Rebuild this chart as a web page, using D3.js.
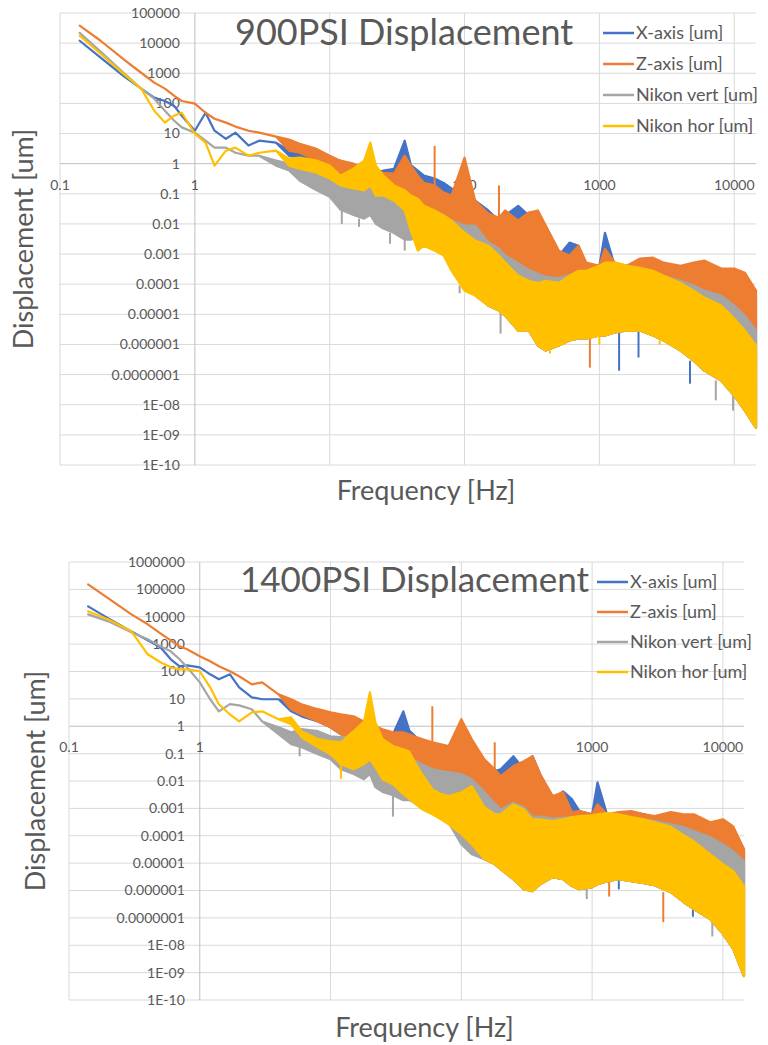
<!DOCTYPE html>
<html>
<head>
<meta charset="utf-8">
<script src="https://cdn.jsdelivr.net/npm/d3@7.9.0/dist/d3.min.js"></script>
<style>
  body { margin: 0; background: #fff; }
  svg text { font-family: Lato, 'Open Sans', sans-serif; fill: #595959; }
</style>
</head>
<body>
<svg id="chart" width="768" height="1045"></svg>
<script>
// frequency grid [Hz] shared by every series
const freqs = [0.14, 0.2, 0.3, 0.4, 0.5, 0.6, 0.7, 0.8, 1, 1.2, 1.4, 1.7, 2, 2.5, 3, 4, 5, 6, 8, 10,
  12, 15, 18, 20, 22, 25, 30, 36, 40, 45, 50, 60, 70, 80, 100, 120, 150, 180, 200, 250,
  300, 350, 400, 500, 600, 700, 800, 1000, 1100, 1300, 1600, 2000, 2500, 3000, 4000, 5000, 6000, 8000, 10000, 12000, 14500];

const xTicks = [0.1, 1, 10, 100, 1000, 10000];
const xTickLabels = ['0.1', '1', '10', '100', '1000', '10000'];
const yTicks = [1e6, 1e5, 1e4, 1e3, 100, 10, 1, 0.1, 0.01, 1e-3, 1e-4, 1e-5, 1e-6, 1e-7, 1e-8, 1e-9, 1e-10];
const yTickLabels = ['1000000', '100000', '10000', '1000', '100', '10', '1', '0.1', '0.01', '0.001', '0.0001',
  '0.00001', '0.000001', '0.0000001', '1E-08', '1E-09', '1E-10'];

const seriesNames = ['X-axis [um]', 'Z-axis [um]', 'Nikon vert [um]', 'Nikon hor [um]'];
const seriesColors = ['#4472c4', '#ed7d31', '#a5a5a5', '#ffc000'];

// 900 PSI: upper edge (hi) on the whole grid, lower edge (lo) on the last part of the grid
const xAxis900Hi = [12000, 3300, 770, 310, 155, 120, 84, 39, 12.4, 49, 12.4, 6.7, 10.7, 4.0, 5.8, 5.0, 2.7, 2.7, 2.3, 1.47,
  1.26, 0.68, 0.50, 0.50, 0.50, 0.59, 0.68, 5.8, 0.9, 0.59, 0.40, 0.32, 0.23, 0.15, 0.13, 0.059, 0.028, 0.013, 0.019, 0.040,
  0.019, 0.015, 0.0060, 0.00089, 0.0024, 0.0019, 0.00041, 0.00041, 0.0051, 0.00041, 0.00033, 0.00052, 0.00052, 0.00041, 0.00033, 0.00028, 0.00028, 0.00024, 0.00019, 0.00013, 4.2e-5];
const xAxis900Lo = [1.84, 1.47, 0.86, 0.50, 0.32, 0.23, 0.15, 0.13, 0.11, 0.087, 0.059, 0.059, 0.040, 0.028, 0.024, 0.015,
  0.011, 0.0070, 0.0051, 0.0028, 1.95e-5, 1.33e-5, 9.1e-6, 2.9e-6, 2.9e-6, 9.2e-7, 6.3e-7, 9.2e-7, 1.35e-6, 1.6e-6,
  1.6e-6, 2.0e-6, 2.0e-6, 2.5e-6, 2.9e-6, 2.9e-6, 2.0e-6, 1.35e-6, 6.3e-7, 2.9e-7, 1.36e-7, 6.4e-8, 2.0e-8, 6.4e-9, 1.75e-9];
const xAxis900Spikes = [[1400, 1.35e-7], [1950, 3.7e-7], [4700, 5.0e-8]];

const zAxis900Hi = [38000, 12000, 2800, 1040, 490, 310, 180, 120, 98, 49, 31, 23, 17, 12.4, 10.7, 7.9, 6.3, 4.6, 3.1, 1.84,
  1.26, 1.0, 0.68, 0.59, 0.59, 0.50, 0.47, 1.84, 0.86, 0.40, 0.23, 0.19, 0.11, 0.087, 1.58, 0.059, 0.022, 0.016, 0.028, 0.013,
  0.024, 0.028, 0.0088, 0.0013, 0.00089, 0.0019, 0.00052, 0.00041, 0.0015, 0.00052, 0.00041, 0.00071, 0.00076, 0.00052, 0.00041, 0.00052, 0.00061, 0.00033, 0.00033, 0.00024, 6.1e-5];
const zAxis900Lo = [2.7, 2.3, 1.26, 0.68, 0.40, 0.32, 0.23, 0.19, 0.19, 0.13, 0.087, 0.069, 0.059, 0.040, 0.028, 0.019,
  0.015, 0.0088, 0.0070, 0.0041, 1.95e-5, 1.33e-5, 9.1e-6, 2.9e-6, 2.9e-6, 9.2e-7, 6.3e-7, 9.2e-7, 1.35e-6, 1.6e-6,
  1.6e-6, 2.0e-6, 2.0e-6, 2.5e-6, 2.9e-6, 2.9e-6, 2.0e-6, 1.35e-6, 6.3e-7, 2.9e-7, 1.36e-7, 6.4e-8, 2.0e-8, 6.4e-9, 1.75e-9];
const zAxis900Spikes = [[60, 3.9], [180, 0.19], [850, 1.7e-7]];

const vert900Hi = [22000, 5200, 970, 310, 143, 57, 27, 16, 10.7, 5.8, 3.4, 3.4, 2.3, 1.84, 1.84, 1.26, 1.0, 0.68, 0.50, 0.40,
  0.32, 0.27, 0.22, 0.59, 0.19, 0.15, 0.087, 0.087, 0.059, 0.040, 0.032, 0.028, 0.019, 0.013, 0.0088, 0.0088, 0.0025, 0.0015, 0.0009, 0.0005,
  0.0003, 0.00022, 0.00018, 0.00016, 0.0002, 0.00026, 0.00026, 0.00028, 0.00033, 0.00033, 0.00028, 0.00028, 0.00024, 0.00019, 0.00013, 9.0e-5, 6.1e-5, 4.2e-5, 1.95e-5, 9.1e-6, 2.9e-6];
const vert900Lo = [0.86, 0.59, 0.27, 0.13, 0.08, 0.03, 0.02, 0.015, 0.02, 0.01, 0.007, 0.005, 0.003, 0.003, 0.004,
  0.003, 0.0025, 0.0012, 0.0005, 9.0e-5, 4.2e-5, 1.95e-5, 1.33e-5, 9.1e-6, 2.9e-6, 2.9e-6, 9.2e-7, 6.3e-7, 9.2e-7, 1.35e-6,
  1.6e-6, 1.6e-6, 2.0e-6, 2.0e-6, 2.5e-6, 2.9e-6, 2.9e-6, 2.0e-6, 1.35e-6, 6.3e-7, 2.9e-7, 1.36e-7, 6.4e-8, 2.0e-8, 6.4e-9, 1.75e-9];
const vert900Spikes = [[12.3, 0.01], [16.5, 0.008], [28, 0.0022], [36, 0.0013], [92, 5e-5], [185, 2.3e-6], [7300, 1.4e-8], [9800, 6.4e-9]];

const hor900Hi = [17600, 4450, 900, 310, 57, 23, 39, 49, 9.9, 5.0, 0.86, 2.7, 3.4, 1.84, 2.3, 2.7, 1.47, 1.58, 1.26, 0.86,
  0.40, 0.68, 1.26, 5.0, 0.86, 0.40, 0.19, 0.13, 0.087, 0.069, 0.040, 0.028, 0.019, 0.013, 0.0051, 0.0028, 0.0019, 0.00089, 0.00052, 0.00019,
  0.00013, 0.00011, 0.00013, 0.00011, 0.00019, 0.00028, 0.00028, 0.00041, 0.00052, 0.00052, 0.00041, 0.00035, 0.00028, 0.00019, 0.00011, 6.1e-5, 3.6e-5, 1.95e-5, 7.2e-6, 2.9e-6, 9.2e-7];
const hor900Lo = [0.86, 0.68, 0.50, 0.32, 0.19, 0.15, 0.13, 0.19, 0.087, 0.087, 0.059, 0.028, 0.0060, 0.0013, 0.0019, 0.0013,
  0.00089, 0.00028, 6.1e-5, 4.2e-5, 1.95e-5, 1.33e-5, 9.1e-6, 2.9e-6, 2.9e-6, 9.2e-7, 6.3e-7, 9.2e-7, 1.35e-6, 1.6e-6,
  1.6e-6, 2.0e-6, 2.0e-6, 2.5e-6, 2.9e-6, 2.9e-6, 2.0e-6, 1.35e-6, 6.3e-7, 2.9e-7, 1.36e-7, 6.4e-8, 2.0e-8, 6.4e-9, 1.75e-9];
const hor900Spikes = [[430, 5e-7], [1000, 1.0e-6], [2800, 1.0e-6], [4400, 6e-7]];

// 1400 PSI
const xAxis1400Hi = [24000, 8750, 2930, 1380, 765, 279, 155, 168, 142, 79, 52, 79, 26.5, 11.4, 9.7, 9.7, 6.4, 4.9, 3.5, 2.7,
  2.1, 1.5, 1.0, 0.78, 0.78, 0.66, 0.51, 3.5, 0.7, 0.40, 0.28, 0.22, 0.17, 0.145, 0.095, 0.062, 0.032, 0.023, 0.027, 0.080,
  0.027, 0.080, 0.018, 0.0022, 0.0042, 0.0022, 0.00079, 0.00061, 0.009, 0.00061, 0.00061, 0.00073, 0.00061, 0.00048, 0.00061, 0.00048, 0.00040, 0.00026, 0.00026, 0.00017, 3.2e-5];
const xAxis1400Lo = [3.5, 2.3, 1.5, 0.92, 0.51, 0.34, 0.22, 0.17, 0.145, 0.095, 0.074, 0.22, 0.17, 0.041, 0.027, 0.018,
  0.0116, 0.0076, 0.0050, 0.0022, 1.4e-5, 9.2e-6, 6.0e-6, 2.6e-6, 1.12e-6, 9.5e-7, 1.7e-6, 3.1e-6, 2.6e-6, 1.45e-6,
  1.12e-6, 1.33e-6, 1.7e-6, 2.2e-6, 2.6e-6, 2.2e-6, 1.86e-6, 1.57e-6, 8.7e-7, 3.8e-7, 2.1e-7, 9.0e-8, 2.6e-8, 7.3e-9, 7.5e-10];
const xAxis1400Spikes = [[1600, 1.1e-6], [5900, 1.1e-7]];

const zAxis1400Hi = [152000, 47000, 12200, 5300, 2480, 1380, 830, 650, 360, 236, 155, 102, 67, 34, 40, 14.7, 9.7, 6.4, 4.2, 3.2,
  2.7, 2.3, 1.5, 1.0, 1.0, 0.78, 0.60, 0.60, 0.51, 0.40, 0.34, 0.26, 0.22, 0.19, 1.8, 0.34, 0.062, 0.027, 0.015, 0.035,
  0.053, 0.080, 0.018, 0.0028, 0.0039, 0.00073, 0.00079, 0.00061, 0.0014, 0.00061, 0.00073, 0.00079, 0.00061, 0.00052, 0.00073, 0.00061, 0.00061, 0.00031, 0.00040, 0.00022, 3.2e-5];
const zAxis1400Lo = [4.2, 2.7, 1.5, 0.92, 0.51, 0.34, 0.22, 0.17, 0.145, 0.095, 0.062, 0.062, 0.041, 0.027, 0.018, 0.0138,
  0.0098, 0.0076, 0.0050, 0.0022, 1.4e-5, 9.2e-6, 6.0e-6, 2.6e-6, 1.12e-6, 9.5e-7, 1.7e-6, 3.1e-6, 2.6e-6, 1.45e-6,
  1.12e-6, 1.33e-6, 1.7e-6, 2.2e-6, 2.6e-6, 2.2e-6, 1.86e-6, 1.57e-6, 8.7e-7, 3.8e-7, 2.1e-7, 9.0e-8, 2.6e-8, 7.3e-9, 7.5e-10];
const zAxis1400Spikes = [[60, 5.4], [180, 0.26], [1350, 6e-7], [3500, 7.0e-8]];

const vert1400Hi = [12200, 6800, 2700, 1500, 830, 546, 279, 142, 40, 9.7, 3.5, 6.4, 5.8, 4.2, 1.5, 0.92, 0.60, 0.78, 0.66, 0.43,
  0.40, 0.43, 0.60, 0.92, 0.51, 0.28, 0.145, 0.12, 0.074, 0.053, 0.041, 0.027, 0.023, 0.021, 0.018, 0.0116, 0.004, 0.0015, 0.0009, 0.0016,
  0.0011, 0.0005, 0.0005, 0.00042, 0.00045, 0.00048, 0.00040, 0.00040, 0.00040, 0.00048, 0.00048, 0.00040, 0.00040, 0.00034, 0.00026, 0.00021, 0.000147, 8.9e-5, 4.9e-5, 2.7e-5, 1.18e-5];
const vert1400Lo = [0.51, 0.22, 0.17, 0.095, 0.062, 0.027, 0.018, 0.0116, 0.018, 0.006, 0.004, 0.003, 0.002, 0.002, 0.0015,
  0.001, 0.0007, 0.0005, 0.0003, 4.9e-5, 2.1e-5, 1.4e-5, 9.2e-6, 6.0e-6, 2.6e-6, 1.12e-6, 9.5e-7, 1.7e-6, 3.1e-6, 2.6e-6,
  1.45e-6, 1.12e-6, 1.33e-6, 1.7e-6, 2.2e-6, 2.6e-6, 2.2e-6, 1.86e-6, 1.57e-6, 8.7e-7, 3.8e-7, 2.1e-7, 9.0e-8, 2.6e-8, 7.3e-9, 7.5e-10];
const vert1400Spikes = [[5.8, 0.08], [30, 5e-4], [910, 4.9e-7], [8300, 2.1e-8], [13000, 3.1e-9]];

const hor1400Hi = [15800, 8000, 2930, 425, 217, 142, 120, 120, 102, 26.5, 6.4, 2.7, 1.5, 3.2, 3.5, 1.8, 2.1, 0.66, 0.34, 0.28,
  0.26, 0.66, 1.5, 17.4, 1.4, 0.34, 0.19, 0.145, 0.12, 0.041, 0.018, 0.0050, 0.0033, 0.0028, 0.0039, 0.0065, 0.0011, 0.00061, 0.00061, 0.0014,
  0.00093, 0.00040, 0.00040, 0.00034, 0.00040, 0.00048, 0.00052, 0.00056, 0.00061, 0.00067, 0.00061, 0.00048, 0.00040, 0.00031, 0.00021, 0.000105, 6.3e-5, 2.1e-5, 9.2e-6, 5.1e-6, 1.45e-6];
const hor1400Lo = [1.18, 0.40, 0.17, 0.095, 0.041, 0.027, 0.041, 0.062, 0.032, 0.0116, 0.0076, 0.0033, 0.0022, 0.0014, 0.00093,
  0.00061, 0.00040, 0.00026, 0.000114, 4.9e-5, 1.4e-5, 9.2e-6, 6.0e-6, 2.6e-6, 1.12e-6, 9.5e-7, 1.7e-6, 3.1e-6, 2.6e-6, 1.45e-6,
  1.12e-6, 1.33e-6, 1.7e-6, 2.2e-6, 2.6e-6, 2.2e-6, 1.86e-6, 1.57e-6, 8.7e-7, 3.8e-7, 2.1e-7, 9.0e-8, 2.6e-8, 7.3e-9, 7.5e-10];
const hor1400Spikes = [[12, 0.012]];

const xMax = 14500;

const charts = [
  {
    title: '900PSI Displacement', titleSize: 36, titleX: 235, titleY: 45,
    left: 60, right: 756, top: 13, bottom: 465, yMax: 1e5,
    legendX: 603, legendY: 33, legendStep: 31, xTitleY: 500, yTitleX: 33,
    series: [
      { hi: xAxis900Hi, lo: xAxis900Lo, spikes: xAxis900Spikes },
      { hi: zAxis900Hi, lo: zAxis900Lo, spikes: zAxis900Spikes },
      { hi: vert900Hi, lo: vert900Lo, spikes: vert900Spikes },
      { hi: hor900Hi, lo: hor900Lo, spikes: hor900Spikes },
    ],
  },
  {
    title: '1400PSI Displacement', titleSize: 35, titleX: 240, titleY: 592,
    left: 69, right: 744, top: 562, bottom: 1000, yMax: 1e6,
    legendX: 597, legendY: 582, legendStep: 30, xTitleY: 1037, yTitleX: 45,
    series: [
      { hi: xAxis1400Hi, lo: xAxis1400Lo, spikes: xAxis1400Spikes },
      { hi: zAxis1400Hi, lo: zAxis1400Lo, spikes: zAxis1400Spikes },
      { hi: vert1400Hi, lo: vert1400Lo, spikes: vert1400Spikes },
      { hi: hor1400Hi, lo: hor1400Lo, spikes: hor1400Spikes },
    ],
  },
];

const svg = d3.select('#chart');

function drawChart(cfg) {
  let x = d3.scaleLog().domain([0.1, xMax]).range([cfg.left, cfg.right]);
  let y = d3.scaleLog().domain([1e-10, cfg.yMax]).range([cfg.bottom, cfg.top]);
  let g = svg.append('g');

  let ticks = yTicks.map((v, i) => ({ v, label: yTickLabels[i] })).filter((d) => d.v <= cfg.yMax);

  // gridlines, the two axes cross at 1
  g.append('g')
    .selectAll('line')
    .data(ticks)
    .join('line')
    .attr('x1', cfg.left)
    .attr('x2', cfg.right)
    .attr('y1', (d) => y(d.v))
    .attr('y2', (d) => y(d.v))
    .attr('stroke', (d) => (d.v === 1 ? '#bfbfbf' : '#d9d9d9'))
    .attr('stroke-width', 1);

  g.append('g')
    .selectAll('line')
    .data(xTicks)
    .join('line')
    .attr('x1', (d) => x(d))
    .attr('x2', (d) => x(d))
    .attr('y1', cfg.top)
    .attr('y2', cfg.bottom)
    .attr('stroke', (d) => (d === 1 ? '#bfbfbf' : '#d9d9d9'))
    .attr('stroke-width', 1);

  g.append('g')
    .selectAll('text')
    .data(ticks)
    .join('text')
    .attr('x', x(1) - 15)
    .attr('y', (d) => y(d.v))
    .attr('dy', '0.35em')
    .attr('text-anchor', 'end')
    .attr('font-size', 14)
    .text((d) => d.label);

  g.append('g')
    .selectAll('text')
    .data(xTicks)
    .join('text')
    .attr('x', (d) => x(d))
    .attr('y', y(1) + 26)
    .attr('text-anchor', 'middle')
    .attr('font-size', 14)
    .text((d, i) => xTickLabels[i]);

  // series: upper/lower envelopes filled, spikes as thin strokes
  cfg.series.forEach((s, i) => {
    let off = freqs.length - s.lo.length;
    let pts = freqs.map((f, k) => ({ f, hi: s.hi[k], lo: k >= off ? s.lo[k - off] : s.hi[k] }));
    let area = d3
      .area()
      .x((d) => x(d.f))
      .y0((d) => y(d.lo))
      .y1((d) => y(d.hi));

    g.append('path')
      .attr('d', area(pts))
      .attr('fill', seriesColors[i])
      .attr('stroke', seriesColors[i])
      .attr('stroke-width', 2.2)
      .attr('stroke-linejoin', 'round');

    s.spikes.forEach(([f, v]) => {
      let k = d3.minIndex(freqs, (q) => Math.abs(Math.log(q / f)));
      let base = v > pts[k].hi ? pts[k].hi : pts[k].lo;
      g.append('line')
        .attr('x1', x(f))
        .attr('x2', x(f))
        .attr('y1', y(base))
        .attr('y2', y(v))
        .attr('stroke', seriesColors[i])
        .attr('stroke-width', 2);
    });
  });

  g.append('text')
    .attr('x', cfg.titleX)
    .attr('y', cfg.titleY)
    .attr('font-size', cfg.titleSize)
    .text(cfg.title);

  let legend = g.append('g');
  seriesNames.forEach((name, i) => {
    let ly = cfg.legendY + i * cfg.legendStep;
    legend
      .append('line')
      .attr('x1', cfg.legendX)
      .attr('x2', cfg.legendX + 31)
      .attr('y1', ly)
      .attr('y2', ly)
      .attr('stroke', seriesColors[i])
      .attr('stroke-width', 2.5);
    legend
      .append('text')
      .attr('x', cfg.legendX + 33)
      .attr('y', ly)
      .attr('dy', '0.35em')
      .attr('font-size', 18)
      .text(name);
  });

  g.append('text')
    .attr('x', (cfg.left + cfg.right) / 2 + 18)
    .attr('y', cfg.xTitleY)
    .attr('text-anchor', 'middle')
    .attr('font-size', 27)
    .text('Frequency [Hz]');

  g.append('text')
    .attr('transform', `translate(${cfg.yTitleX},${(cfg.top + cfg.bottom) / 2}) rotate(-90)`)
    .attr('text-anchor', 'middle')
    .attr('font-size', 27)
    .text('Displacement [um]');
}

charts.forEach(drawChart);
</script>
</body>
</html>
